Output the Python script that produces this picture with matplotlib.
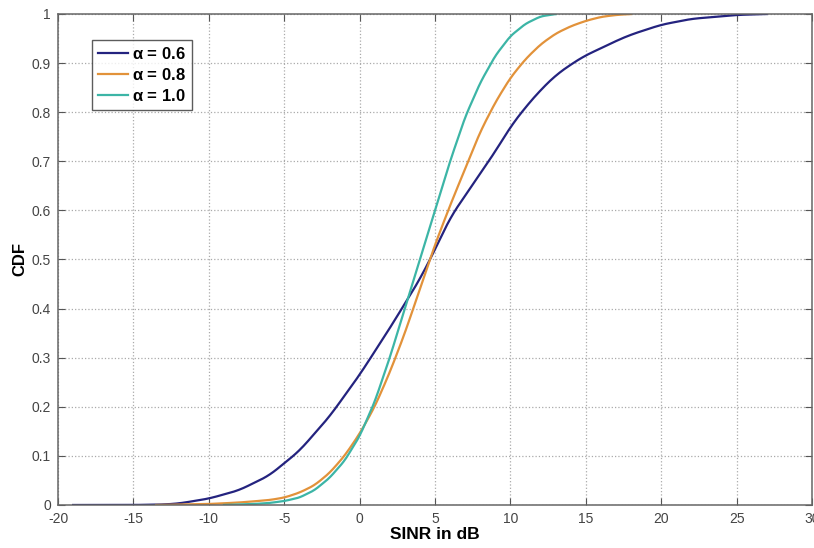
import numpy as np
import matplotlib
matplotlib.use('Agg')
import matplotlib.pyplot as plt

# SINR (dB) / CDF points
sinr_06 = [-19, -15, -13, -12, -10, -8, -6, -5, -4, -2, 0, 2, 3, 4, 5, 6, 7, 8, 9, 10,
           11, 12, 13, 14, 15, 16, 17, 18, 20, 22, 25, 27]
cdf_06 = [0.0, 0.0, 0.001, 0.003, 0.013, 0.03, 0.06, 0.085, 0.11, 0.18, 0.265, 0.36, 0.41,
          0.46, 0.52, 0.585, 0.63, 0.675, 0.72, 0.77, 0.81, 0.845, 0.875, 0.897, 0.916,
          0.93, 0.945, 0.958, 0.978, 0.99, 0.998, 1.0]

sinr_08 = [-13.5, -10, -8, -6, -5, -4, -3, -2, -1, 0, 1, 2, 3, 4, 5, 6, 7, 8, 9, 10,
           11, 12, 13, 14, 15, 16, 17, 18]
cdf_08 = [0.0, 0.002, 0.005, 0.01, 0.015, 0.025, 0.04, 0.065, 0.1, 0.145, 0.2, 0.27, 0.35,
          0.44, 0.53, 0.61, 0.685, 0.76, 0.82, 0.87, 0.908, 0.938, 0.96, 0.975, 0.986,
          0.994, 0.998, 1.0]

sinr_10 = [-9, -7, -6, -5, -4, -3, -2, -1, 0, 1, 2, 3, 4, 5, 6, 7, 8, 9, 10, 11, 12, 13]
cdf_10 = [0.0, 0.002, 0.004, 0.008, 0.015, 0.03, 0.055, 0.09, 0.14, 0.21, 0.30, 0.40, 0.50,
          0.60, 0.70, 0.79, 0.86, 0.915, 0.955, 0.98, 0.995, 1.0]

labels = [r'$\mathregular{\alpha}$ = 0.6', r'$\mathregular{\alpha}$ = 0.8', r'$\mathregular{\alpha}$ = 1.0']
colors = ['#24237f', '#e2923a', '#3cb5a6']

plt.rcParams['font.family'] = ['Liberation Sans', 'DejaVu Sans']
plt.rcParams['axes.unicode_minus'] = False

fig = plt.figure(figsize=(8.14, 5.48), dpi=100)
ax = fig.add_axes([0.0713, 0.0785, 0.9262, 0.896])

for x, y, lab, c in zip([sinr_06, sinr_08, sinr_10], [cdf_06, cdf_08, cdf_10], labels, colors):
	# smooth the hand-read points a little for drawing
	xs = np.linspace(x[0], x[-1], 600)
	ys = np.interp(xs, x, y)
	n = 15
	ys_s = np.convolve(np.pad(ys, n // 2, mode='edge'), np.ones(n) / n, mode='valid')
	ax.plot(xs, ys_s, color=c, lw=1.6, label=lab)

ax.set_xlim(-20, 30)
ax.set_ylim(0, 1)
ax.set_xticks(np.arange(-20, 31, 5))
ax.set_yticks(np.arange(0, 1.01, 0.1))
ax.set_yticklabels(['0', '0.1', '0.2', '0.3', '0.4', '0.5', '0.6', '0.7', '0.8', '0.9', '1'])
ax.tick_params(direction='in', top=True, right=True, length=5, labelsize=10, colors='#555555',
               labelcolor='#444444')
ax.tick_params(axis='x', pad=5)
ax.tick_params(axis='y', pad=5)
ax.grid(True, linestyle=':', color='#aaaaaa', lw=0.9)
for s in ax.spines.values():
	s.set_color('#666666')
	s.set_linewidth(1.1)

ax.set_xlabel('SINR in dB', fontsize=12.5, fontweight='bold', labelpad=1)
ax.set_ylabel('CDF', fontsize=12, fontweight='bold', labelpad=3)

leg = ax.legend(loc='upper left', bbox_to_anchor=(0.045, 0.947), borderaxespad=0,
                fancybox=False, edgecolor='#333333', handlelength=1.8,
                prop={'weight': 'bold', 'size': 12}, labelspacing=0.3,
                borderpad=0.35, handletextpad=0.25)
leg.get_frame().set_linewidth(1.0)

fig.savefig('out.png', dpi=100)
